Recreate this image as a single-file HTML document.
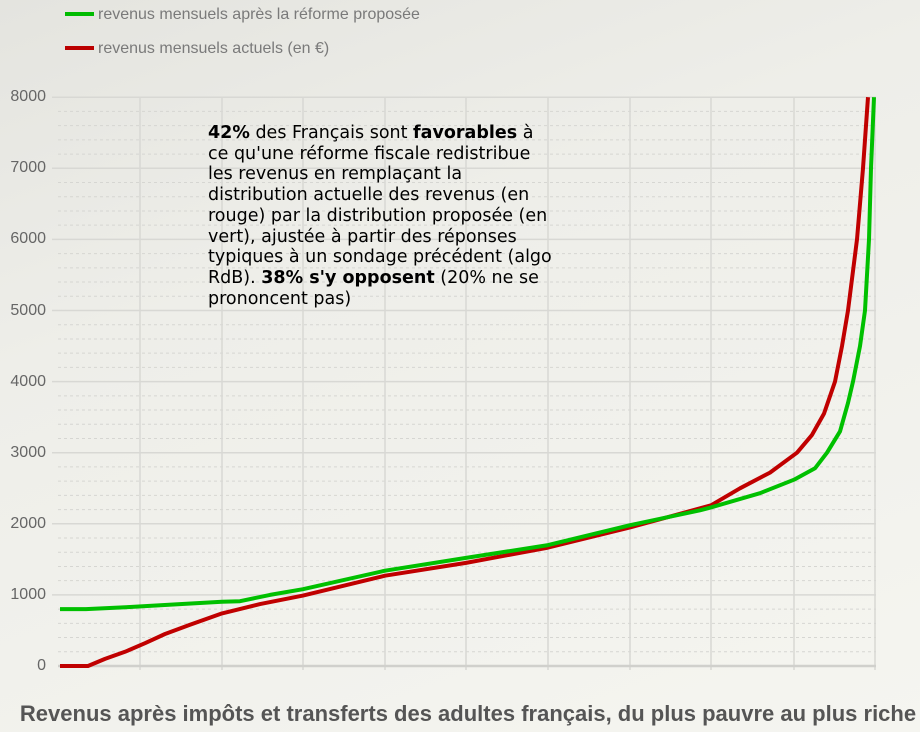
<!DOCTYPE html>
<html><head><meta charset="utf-8"><style>
html,body{margin:0;padding:0}
body{width:920px;height:732px;overflow:hidden;background:linear-gradient(160deg,#e4e4df 0%,#eeeee9 35%,#f5f5f0 100%);font-family:"Liberation Sans",sans-serif;position:relative}
.leg{position:absolute;left:65px;font-size:16px;color:#7a7a7a}
.leg i{display:inline-block;width:29px;height:4px;vertical-align:middle;margin-right:4px;position:relative;top:-1px}
.note{position:absolute;left:208px;top:123px;width:350px;font-family:"DejaVu Sans",sans-serif;font-size:17.5px;line-height:20.7px;color:#000}
.title{position:absolute;left:0;width:936px;text-align:center;top:701px;font-size:22px;font-weight:bold;color:#555}
.yl{position:absolute;left:0;width:46px;text-align:right;font-size:16px;color:#666}
</style></head><body>
<div class="leg" style="top:6px"><i style="background:#00bb00"></i>revenus mensuels après la réforme proposée</div>
<div class="leg" style="top:40px"><i style="background:#bb0000"></i>revenus mensuels actuels (en €)</div>
<svg id="s" width="920" height="732" style="position:absolute;left:0;top:0"></svg>
<div id="yl"></div>
<div class="note"><b>42%</b> des Français sont <b>favorables</b> à ce qu'une réforme fiscale redistribue les revenus en remplaçant la distribution actuelle des revenus (en rouge) par la distribution proposée (en vert), ajustée à partir des réponses typiques à un sondage précédent (algo RdB). <b>38% s'y opposent</b> (20% ne se prononcent pas)</div>
<div class="title">Revenus après impôts et transferts des adultes français, du plus pauvre au plus riche</div>
<script>
var s=document.getElementById('s'),h='';
function Y(v){return 666-v*0.0711;}
for(var v=200;v<8000;v+=200){if(v%1000)h+='<line x1="58" x2="876" y1="'+Y(v)+'" y2="'+Y(v)+'" stroke="#d6d6d2" stroke-dasharray="3,3"/>';}
for(var v=1000;v<=8000;v+=1000)h+='<line x1="52" x2="876" y1="'+Y(v)+'" y2="'+Y(v)+'" stroke="#d8d8d4" stroke-width="1.5"/>';
var xs=[140,222,303,385,466,548,630,711,794,875];
xs.forEach(function(x){h+='<line x1="'+x+'" x2="'+x+'" y1="97" y2="670" stroke="#d8d8d4" stroke-width="1.5"/>';});
h+='<line x1="58" x2="876" y1="666" y2="666" stroke="#d0d0cc" stroke-width="2.5"/>';
var g=[[60,800],[86,800],[130,830],[180,870],[222,905],[240,912],[270,1000],[303,1080],[385,1340],[466,1520],[548,1700],[630,1980],[700,2190],[711,2230],[760,2430],[794,2620],[815,2780],[827,3000],[840,3300],[848,3700],[853,4000],[860,4500],[865,5000],[869,6000],[871,7000],[874,8000]];
var r=[[60,0],[88,0],[105,100],[125,200],[145,320],[165,450],[190,580],[222,740],[260,870],[303,990],[385,1270],[466,1450],[548,1665],[630,1950],[680,2140],[711,2260],[740,2500],[770,2720],[797,3000],[812,3250],[824,3550],[835,4000],[842,4500],[848,5000],[857,6000],[863,7000],[868,8000]];
function pl(a,c){return '<polyline fill="none" stroke="'+c+'" stroke-width="4" stroke-linejoin="round" points="'+a.map(function(p){return p[0]+','+Y(p[1]).toFixed(1)}).join(' ')+'"/>';}
h+=pl(r,'#c00000')+pl(g,'#00c000');
s.innerHTML=h;
var yl='';for(var v=0;v<=8000;v+=1000)yl+='<div class="yl" style="top:'+(Y(v)-9)+'px">'+v+'</div>';
document.getElementById('yl').innerHTML=yl;
</script>
</body></html>
